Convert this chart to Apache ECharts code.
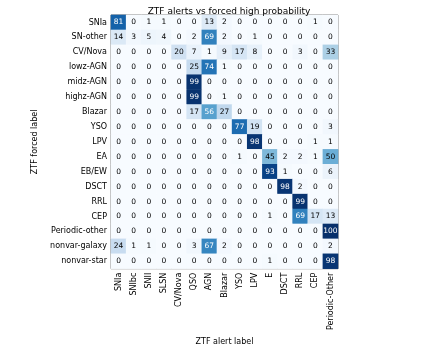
<!DOCTYPE html>
<html>
<head>
<meta charset="utf-8">
<script src="https://cdn.jsdelivr.net/npm/echarts@6/dist/echarts.min.js"></script>
<style>
  html, body { margin: 0; padding: 0; background: #fff; }
  #chart { width: 421px; height: 351px; }
</style>
</head>
<body>
<div id="chart"></div>
<script>
// predicted (alert) classes along x
const alertLabels = ['SNIa', 'SNIbc', 'SNII', 'SLSN', 'CV/Nova', 'QSO', 'AGN', 'Blazar',
  'YSO', 'LPV', 'E', 'DSCT', 'RRL', 'CEP', 'Periodic-Other']
// forced classes along y (top to bottom)
const forcedLabels = ['SNIa', 'SN-other', 'CV/Nova', 'lowz-AGN', 'midz-AGN', 'highz-AGN', 'Blazar',
  'YSO', 'LPV', 'EA', 'EB/EW', 'DSCT', 'RRL', 'CEP', 'Periodic-other', 'nonvar-galaxy', 'nonvar-star']

// percentages, one row per forced label
const rowSNIa = [81, 0, 1, 1, 0, 0, 13, 2, 0, 0, 0, 0, 0, 1, 0]
const rowSNother = [14, 3, 5, 4, 0, 2, 69, 2, 0, 1, 0, 0, 0, 0, 0]
const rowCVNova = [0, 0, 0, 0, 20, 7, 1, 9, 17, 8, 0, 0, 3, 0, 33]
const rowLowzAGN = [0, 0, 0, 0, 0, 25, 74, 1, 0, 0, 0, 0, 0, 0, 0]
const rowMidzAGN = [0, 0, 0, 0, 0, 99, 0, 0, 0, 0, 0, 0, 0, 0, 0]
const rowHighzAGN = [0, 0, 0, 0, 0, 99, 0, 1, 0, 0, 0, 0, 0, 0, 0]
const rowBlazar = [0, 0, 0, 0, 0, 17, 56, 27, 0, 0, 0, 0, 0, 0, 0]
const rowYSO = [0, 0, 0, 0, 0, 0, 0, 0, 77, 19, 0, 0, 0, 0, 3]
const rowLPV = [0, 0, 0, 0, 0, 0, 0, 0, 0, 98, 0, 0, 0, 1, 1]
const rowEA = [0, 0, 0, 0, 0, 0, 0, 0, 1, 0, 45, 2, 2, 1, 50]
const rowEBEW = [0, 0, 0, 0, 0, 0, 0, 0, 0, 0, 93, 1, 0, 0, 6]
const rowDSCT = [0, 0, 0, 0, 0, 0, 0, 0, 0, 0, 0, 98, 2, 0, 0]
const rowRRL = [0, 0, 0, 0, 0, 0, 0, 0, 0, 0, 0, 0, 99, 0, 0]
const rowCEP = [0, 0, 0, 0, 0, 0, 0, 0, 0, 0, 1, 0, 69, 17, 13]
const rowPeriodicOther = [0, 0, 0, 0, 0, 0, 0, 0, 0, 0, 0, 0, 0, 0, 100]
const rowNonvarGalaxy = [24, 1, 1, 0, 0, 3, 67, 2, 0, 0, 0, 0, 0, 0, 2]
const rowNonvarStar = [0, 0, 0, 0, 0, 0, 0, 0, 0, 0, 1, 0, 0, 0, 98]

const rows = [rowSNIa, rowSNother, rowCVNova, rowLowzAGN, rowMidzAGN, rowHighzAGN, rowBlazar,
  rowYSO, rowLPV, rowEA, rowEBEW, rowDSCT, rowRRL, rowCEP, rowPeriodicOther, rowNonvarGalaxy, rowNonvarStar]

const font = 'DejaVu Sans'
const blues = ['#f7fbff', '#deebf7', '#c6dbef', '#9ecae1', '#6baed6', '#4292c6', '#2171b5', '#08519c', '#08306b']

// heatmap items, white text on the dark half like matplotlib
const cells = []
rows.forEach((row, y) => {
  row.forEach((v, x) => {
    cells.push({
      value: [x, y, v],
      label: { color: v > 50 ? '#fff' : '#000' }
    })
  })
})

const chart = echarts.init(document.getElementById('chart'))
chart.setOption({
  animation: false,
  title: {
    text: 'ZTF alerts vs forced high probability',
    left: 224,
    textAlign: 'center',
    top: 2,
    textStyle: { fontFamily: font, fontSize: 9, fontWeight: 'normal', color: '#000' }
  },
  grid: {
    left: 111,
    right: 83,
    top: 15,
    bottom: 78,
    show: true,
    borderColor: '#444',
    borderWidth: 0.8,
    backgroundColor: 'transparent'
  },
  xAxis: {
    type: 'category',
    data: alertLabels,
    name: 'ZTF alert label',
    nameLocation: 'middle',
    nameGap: 63,
    nameTextStyle: { fontFamily: font, fontSize: 8, color: '#000' },
    axisLine: { show: false },
    axisTick: { alignWithLabel: true, length: 3, lineStyle: { color: '#000' } },
    axisLabel: { rotate: 90, interval: 0, fontFamily: font, fontSize: 8, color: '#000', margin: 4 },
    splitArea: { show: false }
  },
  yAxis: {
    type: 'category',
    data: forcedLabels,
    inverse: true,
    name: 'ZTF forced label',
    nameLocation: 'middle',
    nameGap: 64,
    nameRotate: 90,
    nameTextStyle: { fontFamily: font, fontSize: 8, color: '#000' },
    axisLine: { show: false },
    axisTick: { alignWithLabel: true, length: 3, lineStyle: { color: '#000' } },
    axisLabel: { interval: 0, fontFamily: font, fontSize: 8, color: '#000', margin: 4 }
  },
  visualMap: {
    show: false,
    min: 0,
    max: 100,
    dimension: 2,
    inRange: { color: blues }
  },
  series: [{
    type: 'heatmap',
    data: cells,
    label: { show: true, fontFamily: font, fontSize: 7.5 },
    itemStyle: { borderWidth: 0 }
  }]
})
</script>
</body>
</html>
